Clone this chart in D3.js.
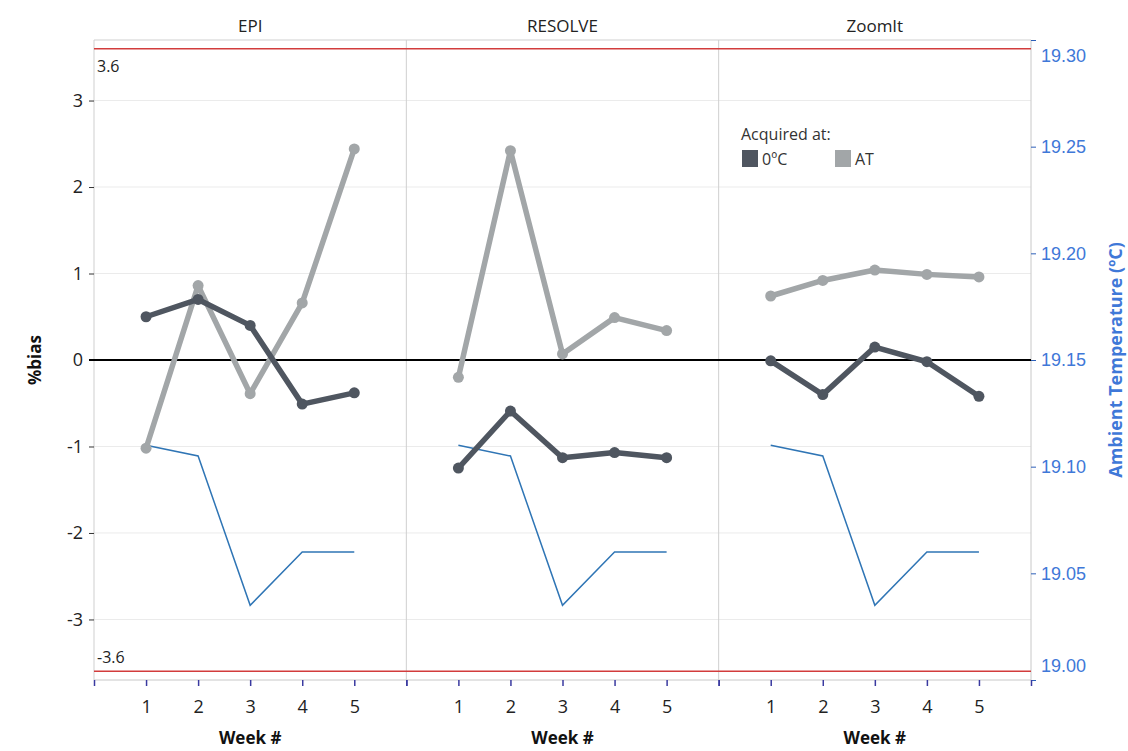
<!DOCTYPE html>
<html>
<head>
<meta charset="utf-8">
<script src="https://cdn.jsdelivr.net/npm/d3@7"></script>
<style>
  html, body { margin: 0; padding: 0; background: #fff; }
  svg { display: block; }
  text { font-family: "Open Sans", "Noto Sans", sans-serif; }
</style>
</head>
<body>
<svg id="chart" width="1128" height="751"></svg>
<script>
// Panels (instruments) and weeks
const panels = ["EPI", "RESOLVE", "ZoomIt"];
const weeks = [1, 2, 3, 4, 5];
const weekTicks = [0, 1, 2, 3, 4, 5, 6];

// %bias acquired at 0°C, per panel
const bias0C = {
  EPI:     [0.50, 0.70, 0.40, -0.51, -0.38],
  RESOLVE: [-1.25, -0.59, -1.13, -1.07, -1.13],
  ZoomIt:  [-0.01, -0.40, 0.15, -0.02, -0.42]
};
// %bias acquired at ambient temperature, per panel
const biasAT = {
  EPI:     [-1.02, 0.86, -0.39, 0.66, 2.44],
  RESOLVE: [-0.20, 2.42, 0.07, 0.49, 0.34],
  ZoomIt:  [0.74, 0.92, 1.04, 0.99, 0.96]
};
// Ambient temperature (°C) per week
const ambientTemp = [19.11, 19.105, 19.035, 19.06, 19.06];

// Axis ticks and reference limits
const biasTicks = [-3, -2, -1, 0, 1, 2, 3];
const tempTicks = [19.00, 19.05, 19.10, 19.15, 19.20, 19.25, 19.30];
const limits = [3.6, -3.6];

const legendItems = [
  { label: "0ºC", color: "#4f5660" },
  { label: "AT", color: "#a2a6a8" }
];

const svg = d3.select("#chart");
const plot = { left: 94, right: 1031, top: 40, bottom: 680 };
const panelW = (plot.right - plot.left) / panels.length;

const y = d3.scaleLinear().domain([-3.7, 3.7]).range([plot.bottom, plot.top]);
const yT = d3.scaleLinear().domain([19.0, 19.3]).range([plot.bottom, plot.top]);

const tempColor = "#3f78d8";
// plain hyphen for negative numbers
const hyphen = f => d => f(d).replace("\u2212", "-");

// gridlines
svg.append("g").selectAll("line")
  .data(biasTicks.filter(d => d !== 0))
  .join("line")
  .attr("x1", plot.left).attr("x2", plot.right)
  .attr("y1", d => y(d)).attr("y2", d => y(d))
  .attr("stroke", "#ebebeb").attr("stroke-width", 1);

// frame
svg.append("line").attr("x1", plot.left).attr("x2", plot.right)
  .attr("y1", plot.top).attr("y2", plot.top).attr("stroke", "#cfcfcf");
svg.append("line").attr("x1", plot.left).attr("x2", plot.right)
  .attr("y1", plot.bottom).attr("y2", plot.bottom).attr("stroke", "#c8c8c8");
panels.forEach((p, i) => {
  const x0 = plot.left + i * panelW;
  svg.append("line").attr("x1", x0).attr("x2", x0)
    .attr("y1", plot.top).attr("y2", plot.bottom).attr("stroke", "#cfcfcf");
});
svg.append("line").attr("x1", plot.right).attr("x2", plot.right)
  .attr("y1", plot.top).attr("y2", plot.bottom).attr("stroke", "#c8c8c8");

// left axis
const leftAxis = svg.append("g").attr("transform", `translate(${plot.left},0)`)
  .call(d3.axisLeft(y).tickValues(biasTicks).tickSize(5).tickPadding(6)
    .tickFormat(hyphen(d3.format("d"))));
leftAxis.select(".domain").remove();
leftAxis.selectAll(".tick line").attr("stroke", "#333");
leftAxis.selectAll(".tick text").attr("font-size", 18).attr("fill", "#222")
  .style("font-family", "'Open Sans', sans-serif");

// right axis (temperature)
const rightAxis = svg.append("g").attr("transform", `translate(${plot.right},0)`)
  .call(d3.axisRight(yT).tickValues(tempTicks).tickSize(5).tickPadding(5).tickFormat(d3.format(".2f")));
rightAxis.select(".domain").remove();
rightAxis.selectAll(".tick line").attr("stroke", "#2c5fb8");
rightAxis.selectAll(".tick text").attr("font-size", 18).attr("fill", tempColor)
  .style("font-family", "'Liberation Sans', Arial, sans-serif")
  .attr("dy", d => d === 19.30 ? "1.2em" : d === 19.00 ? "-0.5em" : "0.32em");

// zero line
svg.append("line").attr("x1", plot.left - 5).attr("x2", plot.right)
  .attr("y1", y(0)).attr("y2", y(0)).attr("stroke", "#000").attr("stroke-width", 2);

// limit lines
svg.append("g").selectAll("line").data(limits).join("line")
  .attr("x1", plot.left).attr("x2", plot.right)
  .attr("y1", d => y(d)).attr("y2", d => y(d))
  .attr("stroke", "#d23c3c").attr("stroke-width", 1.5);
svg.append("g").selectAll("text").data(limits).join("text")
  .attr("x", plot.left + 3)
  .attr("y", d => d > 0 ? y(d) + 23 : y(d) - 8)
  .attr("font-size", 16).attr("fill", "#222")
  .text(hyphen(d3.format(".1f")));

const line = (xs, ys) => d3.line().x((d, i) => xs(weeks[i])).y(d => ys(d));

panels.forEach((p, i) => {
  const x0 = plot.left + i * panelW;
  const x = d3.scaleLinear().domain([0, 6]).range([x0, x0 + panelW]);
  const g = svg.append("g");

  // title
  g.append("text").attr("x", x(3)).attr("y", 32).attr("text-anchor", "middle")
    .attr("font-size", 17).attr("fill", "#222").text(p);

  // bottom axis
  const ax = g.append("g").attr("transform", `translate(0,${plot.bottom})`)
    .call(d3.axisBottom(x).tickValues(weekTicks).tickSize(6).tickPadding(14)
      .tickFormat(d => (d >= 1 && d <= 5) ? d : ""));
  ax.select(".domain").remove();
  ax.selectAll(".tick line").attr("stroke", "#3a3aa0").attr("stroke-width", 1.5);
  ax.selectAll(".tick text").attr("font-size", 18).attr("fill", "#222");

  g.append("text").attr("x", x(3)).attr("y", 744).attr("text-anchor", "middle")
    .attr("font-size", 17).attr("font-weight", "bold").attr("fill", "#111")
    .text("Week #");

  // ambient temperature
  g.append("path").datum(ambientTemp)
    .attr("d", line(x, yT)).attr("fill", "none")
    .attr("stroke", "#2f75b5").attr("stroke-width", 1.5);

  // bias series
  [[biasAT[p], legendItems[1].color], [bias0C[p], legendItems[0].color]].forEach(([vals, col]) => {
    g.append("path").datum(vals)
      .attr("d", line(x, y)).attr("fill", "none")
      .attr("stroke", col).attr("stroke-width", 5.5)
      .attr("stroke-linejoin", "round");
    g.append("g").selectAll("circle").data(vals).join("circle")
      .attr("cx", (d, k) => x(weeks[k])).attr("cy", d => y(d))
      .attr("r", 5.5).attr("fill", col);
  });
});

// axis titles
svg.append("text")
  .attr("transform", `translate(41,360) rotate(-90)`)
  .attr("text-anchor", "middle").attr("font-size", 17).attr("font-weight", "bold")
  .attr("fill", "#111").text("%bias");
svg.append("text")
  .attr("transform", `translate(1122,360) rotate(-90)`)
  .attr("text-anchor", "middle").attr("font-size", 18).attr("font-weight", "bold")
  .attr("fill", tempColor).text("Ambient Temperature (ºC)");

// legend
const lg = svg.append("g").attr("transform", "translate(741,140)");
lg.append("text").attr("x", 0).attr("y", 0).attr("font-size", 16).attr("fill", "#333")
  .text("Acquired at:");
legendItems.forEach((it, k) => {
  const gx = k * 93;
  lg.append("rect").attr("x", gx + 1).attr("y", 10).attr("width", 16).attr("height", 17)
    .attr("fill", it.color);
  lg.append("text").attr("x", gx + 21).attr("y", 25).attr("font-size", 16).attr("fill", "#333")
    .text(it.label);
});
</script>
</body>
</html>
